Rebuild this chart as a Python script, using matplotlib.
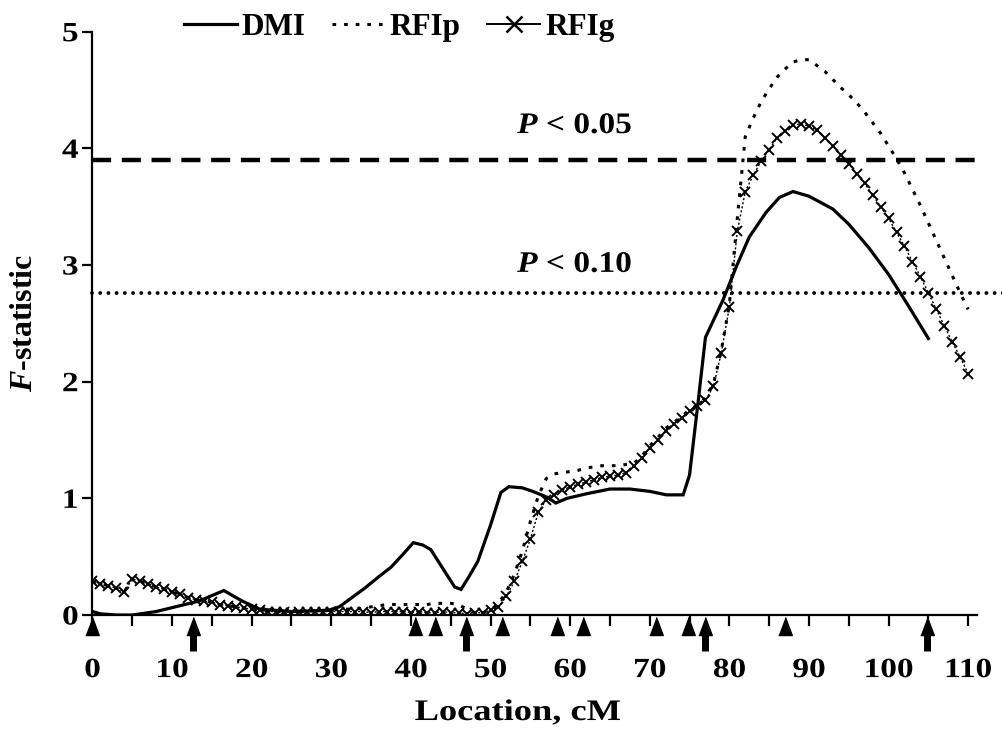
import numpy as np
import matplotlib
matplotlib.use("Agg")
from matplotlib import pyplot as plt
from matplotlib import transforms
from matplotlib.lines import Line2D
from matplotlib.patheffects import AbstractPathEffect

plt.rcParams['font.family'] = ['Liberation Serif', 'DejaVu Serif']
plt.rcParams['font.weight'] = 'bold'
plt.rcParams['mathtext.fontset'] = 'custom'
plt.rcParams['mathtext.it'] = 'Liberation Serif:italic:bold'
plt.rcParams['mathtext.rm'] = 'Liberation Serif:bold'

# F-statistic profiles
dmi_x = [0, 1, 3, 5, 8, 11, 13.4, 16.5, 18.8, 21, 25, 29.6, 31, 33, 34.2, 36, 37.5, 39, 40.3, 41.5,
         42.5, 44, 45.5, 46.3, 47.3, 48.4, 50, 51.3, 52.3, 54, 55.3, 57.1, 58.2, 59.6, 62.1, 65, 67.5, 70, 72.1, 74.2,
         75, 76.1, 77, 79.2, 80.9, 82.5, 84.6, 86.3, 88, 90, 93, 95, 97.5, 100, 102.5, 105]
dmi_y = [0.03, 0.01, 0.0, 0.0, 0.03, 0.08, 0.12, 0.21, 0.12, 0.05, 0.03, 0.04, 0.07, 0.17, 0.23, 0.33, 0.41, 0.52, 0.62, 0.60,
         0.56, 0.40, 0.24, 0.22, 0.33, 0.46, 0.77, 1.05, 1.10, 1.09, 1.06, 1.01, 0.96, 1.00, 1.04, 1.08, 1.08, 1.06, 1.03, 1.03,
         1.20, 1.84, 2.38, 2.70, 2.99, 3.24, 3.45, 3.58, 3.63, 3.59, 3.48, 3.35, 3.15, 2.92, 2.65, 2.37]

loc_cm = list(range(0, 111))
rfig = [0.29, 0.27, 0.25, 0.23, 0.20, 0.31, 0.29, 0.27, 0.24, 0.22,
        0.20, 0.18, 0.15, 0.13, 0.12, 0.11, 0.09, 0.08, 0.07, 0.06,
        0.05, 0.04, 0.03, 0.03, 0.03, 0.02, 0.03, 0.03, 0.03, 0.03,
        0.03, 0.03, 0.03, 0.03, 0.03, 0.02, 0.03, 0.03, 0.03, 0.03,
        0.02, 0.03, 0.02, 0.02, 0.03, 0.02, 0.02, 0.01, 0.02, 0.02,
        0.04, 0.07, 0.16, 0.29, 0.46, 0.65, 0.88, 0.99, 1.03, 1.07,
        1.10, 1.12, 1.14, 1.16, 1.18, 1.19, 1.20, 1.22, 1.28, 1.35,
        1.43, 1.50, 1.58, 1.64, 1.69, 1.75, 1.79, 1.84, 1.96, 2.25,
        2.64, 3.29, 3.63, 3.77, 3.89, 3.99, 4.09, 4.15, 4.20, 4.21,
        4.19, 4.16, 4.09, 4.02, 3.94, 3.87, 3.78, 3.70, 3.60, 3.50,
        3.40, 3.28, 3.16, 3.03, 2.90, 2.76, 2.62, 2.48, 2.34, 2.21,
        2.07]
rfip = [0.29, 0.27, 0.25, 0.23, 0.20, 0.31, 0.29, 0.27, 0.24, 0.22,
        0.20, 0.18, 0.15, 0.13, 0.12, 0.11, 0.09, 0.08, 0.07, 0.06,
        0.05, 0.04, 0.03, 0.03, 0.03, 0.03, 0.03, 0.03, 0.04, 0.04,
        0.04, 0.05, 0.05, 0.05, 0.06, 0.07, 0.08, 0.09, 0.09, 0.09,
        0.09, 0.09, 0.09, 0.10, 0.10, 0.10, 0.09, 0.05, 0.02, 0.02,
        0.04, 0.10, 0.20, 0.35, 0.55, 0.80, 1.02, 1.17, 1.21, 1.22,
        1.23, 1.24, 1.26, 1.27, 1.28, 1.28, 1.28, 1.29, 1.30, 1.36,
        1.45, 1.52, 1.60, 1.65, 1.70, 1.76, 1.80, 1.86, 1.98, 2.27,
        2.66, 3.40, 4.10, 4.26, 4.40, 4.51, 4.61, 4.68, 4.74, 4.76,
        4.76, 4.71, 4.66, 4.59, 4.52, 4.46, 4.39, 4.31, 4.22, 4.13,
        4.02, 3.91, 3.79, 3.65, 3.51, 3.36, 3.21, 3.06, 2.91, 2.76,
        2.62]

# marker positions along the chromosome (cM)
triangle_cm = [0, 40.5, 43.0, 51.4, 58.4, 61.6, 70.8, 74.8, 87.0]
arrow_cm = [12.6, 46.9, 77.0, 104.8]

thresholds = [3.90, 2.76]
threshold_labels = ["$P$ < 0.05", "$P$ < 0.10"]


class HStretch(AbstractPathEffect):
    """widen glyphs about their own centre (the source font is set wide)"""
    def __init__(self, sx):
        super().__init__()
        self.sx = sx

    def draw_path(self, renderer, gc, tpath, affine, rgbFace=None):
        ext = tpath.get_extents()
        cx = (ext.x0 + ext.x1) / 2
        a = transforms.Affine2D().translate(-cx, 0).scale(self.sx, 1).translate(cx, 0) + affine
        renderer.draw_path(gc, tpath, a, rgbFace)


fig = plt.figure(figsize=(10.03, 7.32), dpi=100)
ax = fig.add_axes([0.0922, 0.1598, 0.8818, 0.7969])

ax.plot(dmi_x, dmi_y, color='black', lw=2.3, solid_joinstyle='miter')
ax.plot(loc_cm, rfip, color='black', lw=2.2, linestyle=(0, (1.2, 2.6)))
ax.plot(loc_cm, rfig, color='black', lw=1.0, linestyle=(0, (1.5, 1.5)),
        marker='x', markersize=6.5, markeredgewidth=1.4)

# significance thresholds
ax.plot([0, 111], [thresholds[0]] * 2, color='black', lw=3.2,
        linestyle=(0, (4.3, 2.4)), clip_on=False)
ax.plot([0, 114.8], [thresholds[1]] * 2, color='black', lw=2.8,
        linestyle=(0, (0.01, 2.1)), dash_capstyle='round', clip_on=False)
for thr_y, thr_lab in zip([4.13, 2.94], threshold_labels):
    t = ax.text(60.6, thr_y, thr_lab, ha='center', va='baseline', fontsize=21.5, fontweight='bold')
    t.set_path_effects([HStretch(1.12)])

# marker positions below axis
trans = transforms.blended_transform_factory(ax.transData, ax.transAxes)
tri = [(-0.75, -1), (0.75, -1), (0, 1)]
ax.plot(triangle_cm, [-0.0189] * len(triangle_cm), linestyle='none', marker=tri,
        markersize=13, color='black', transform=trans, clip_on=False)
ax.plot(arrow_cm, [-0.0189] * len(arrow_cm), linestyle='none', marker=tri,
        markersize=13, color='black', transform=trans, clip_on=False)
for a in arrow_cm:
    ax.plot([a, a], [-0.028, -0.0617], color='black', lw=5, solid_capstyle='butt',
            transform=trans, clip_on=False)

ax.set_xlim(0, 111.1)
ax.set_ylim(0, 5)
ax.set_xticks(range(0, 111, 10))
ax.set_xticks(range(5, 111, 10), minor=True)
ax.set_yticks(range(0, 6))
ax.spines['top'].set_visible(False)
ax.spines['right'].set_visible(False)
ax.spines['left'].set_linewidth(1.6)
ax.spines['bottom'].set_linewidth(1.6)
ax.tick_params(axis='x', which='both', direction='out', length=8, width=1.6, pad=23, labelsize=20)
ax.tick_params(axis='y', direction='out', length=7.5, width=1.6, pad=3.5, labelsize=20)
for lab in ax.get_xticklabels() + ax.get_yticklabels():
    lab.set_fontweight('bold')
    lab.set_path_effects([HStretch(1.2)])

ax.set_xlabel("Location, cM", fontsize=21.5, fontweight='bold', path_effects=[HStretch(1.22)])
ax.xaxis.set_label_coords(0.481, -0.144)
ax.set_ylabel("$F$-statistic", fontsize=23, fontweight='bold')
ax.yaxis.set_label_coords(-0.06, 0.5)

handles = [Line2D([], [], color='black', lw=2.3),
           Line2D([], [], color='black', lw=2.2, linestyle=(0, (1.2, 2.6))),
           Line2D([], [], color='black', lw=1.4, marker='x', markersize=11, markeredgewidth=1.8)]
fig.legend(handles, ["DMI", "RFIp", "RFIg"], loc='center left', bbox_to_anchor=(0.183, 0.962),
           ncol=3, frameon=False, borderpad=0, borderaxespad=0,
           handlelength=1.7, handletextpad=0.15, columnspacing=0.85,
           prop={'weight': 'bold', 'size': 22.5})

fig.savefig("out.png", dpi=100)
